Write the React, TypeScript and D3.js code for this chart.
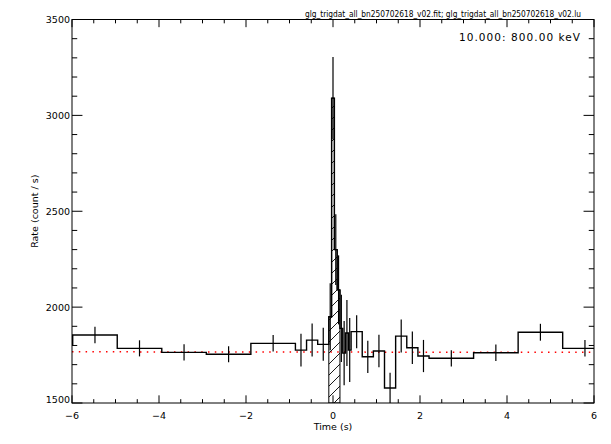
import * as d3 from 'd3';
import React from 'react';

// light curve, bin edges in seconds (trigdat: 1.024 s, 0.256 s, 0.064 s)
const binEdges = [
  -7.008, -5.984, -4.96, -3.936, -2.912, -1.888,
  -0.864, -0.608, -0.352, -0.096,
  -0.032, 0.032, 0.096, 0.16, 0.224, 0.288, 0.352, 0.416,
  0.672, 0.928, 1.184, 1.44, 1.696, 1.952, 2.208,
  3.232, 4.256, 5.28, 6.304,
];
const rates = [
  1802, 1855, 1785, 1764, 1754, 1811,
  1776, 1828, 1806,
  1950, 3090, 2300, 2090, 1889, 1760, 1865, 1776,
  1872, 1741, 1771, 1578, 1849, 1788, 1745,
  1733, 1762, 1869, 1785,
];
const rateErrors = [
  43, 43, 42, 42, 42, 43,
  85, 86, 86,
  175, 215, 185, 180, 175, 168, 172, 167,
  86, 84, 85, 80, 86, 85, 84,
  42, 43, 44, 43,
];

// background fit (red dotted) and source interval (hatched)
const bkgTimes = [-6, 6];
const bkgRates = [1767, 1764];
const srcInterval = [-0.096, 0.16];

const xTicks = [-6, -4, -2, 0, 2, 4, 6];
const xTickLabels = ['\u22126', '\u22124', '\u22122', '0', '2', '4', '6'];
const yTicks = [1500, 2000, 2500, 3000, 3500];
const yTickLabels = ['1500', '2000', '2500', '3000', '3500'];

const fileTitle = 'glg_trigdat_all_bn250702618_v02.fit; glg_trigdat_all_bn250702618_v02.lu';
const energyLabel = '10.000: 800.00 keV';

const W = 611, H = 444;
const plot = {left: 72, right: 594, top: 19.5, bottom: 403};
const font = '"DejaVu Sans", sans-serif';

export default function App() {
  const x = d3.scaleLinear().domain([-6, 6]).range([plot.left, plot.right]);
  const y = d3.scaleLinear().domain([1500, 3500]).range([plot.bottom, plot.top]);

  const stepPts: [number, number][] = rates.map((r, i) => [binEdges[i], r]);
  stepPts.push([binEdges[binEdges.length - 1], rates[rates.length - 1]]);
  const stepLine = d3.line<[number, number]>()
    .x(d => x(d[0])).y(d => y(d[1]))
    .curve(d3.curveStepAfter);

  // rate at time t (bin containing t)
  const rateAt = (t: number) => {
    const i = d3.bisectRight(binEdges, t) - 1;
    return rates[Math.max(0, Math.min(rates.length - 1, i))];
  };
  const [hs, he] = srcInterval;
  const hatchPts: [number, number][] = [[x(hs), plot.bottom], [x(hs), y(rateAt(hs))]];
  binEdges.filter(e => e > hs && e < he).forEach(e => {
    hatchPts.push([x(e), y(rateAt(e - 1e-6))]);
    hatchPts.push([x(e), y(rateAt(e))]);
  });
  hatchPts.push([x(he), y(rateAt(he - 1e-6))]);
  hatchPts.push([x(he), plot.bottom]);

  const xMinor = d3.range(-6, 6.001, 0.5);
  const yMinor = d3.range(1500, 3500.1, 100);
  const xLen = 0.02 * (plot.bottom - plot.top);
  const yLen = 0.02 * (plot.right - plot.left);

  return (
    <svg width={W} height={H} style={{position: 'absolute', left: 0, top: 0, background: '#fff'}}
      fontFamily={font}>
      <defs>
        <clipPath id="plotClip">
          <rect x={plot.left} y={plot.top} width={plot.right - plot.left} height={plot.bottom - plot.top} />
        </clipPath>
        <pattern id="hatch" patternUnits="userSpaceOnUse" width={11} height={11}>
          <path d="M0,11 L11,0 M-2,2 L2,-2 M9,13 L13,9" stroke="#000" strokeWidth={0.9} />
        </pattern>
      </defs>
      <rect width={W} height={H} fill="#fff" />

      <g clipPath="url(#plotClip)">
        <line x1={x(bkgTimes[0])} x2={x(bkgTimes[1])} y1={y(bkgRates[0])} y2={y(bkgRates[1])}
          stroke="#ff0000" strokeWidth={1.5} strokeDasharray="1.5 5.3" />
        <polygon points={hatchPts.map(p => p.join(',')).join(' ')} fill="url(#hatch)"
          stroke="#000" strokeWidth={1} />
        <path d={stepLine(stepPts) || ''} fill="none" stroke="#000" strokeWidth={1.4} />
        {rates.map((r, i) => {
          const c = x((binEdges[i] + binEdges[i + 1]) / 2);
          return <line key={i} x1={c} x2={c} y1={y(r - rateErrors[i])} y2={y(r + rateErrors[i])}
            stroke="#000" strokeWidth={1.2} />;
        })}
      </g>

      {/* frame and ticks */}
      <rect x={plot.left} y={plot.top} width={plot.right - plot.left} height={plot.bottom - plot.top}
        fill="none" stroke="#000" strokeWidth={1} />
      <g stroke="#000" strokeWidth={1}>
        {xMinor.map(t => {
          const major = Math.abs(t % 2) < 1e-6;
          const l = major ? xLen : xLen / 2;
          return <g key={`x${t}`}>
            <line x1={x(t)} x2={x(t)} y1={plot.bottom} y2={plot.bottom - l} />
            <line x1={x(t)} x2={x(t)} y1={plot.top} y2={plot.top + l} />
          </g>;
        })}
        {yMinor.map(v => {
          const major = v % 500 === 0;
          const l = major ? yLen : yLen / 2;
          return <g key={`y${v}`}>
            <line x1={plot.left} x2={plot.left + l} y1={y(v)} y2={y(v)} />
            <line x1={plot.right} x2={plot.right - l} y1={y(v)} y2={y(v)} />
          </g>;
        })}
      </g>

      <g fontSize={9.5} fill="#000">
        {xTicks.map((t, i) => (
          <text key={t} x={x(t)} y={418.5} textAnchor="middle">{xTickLabels[i]}</text>
        ))}
        {yTicks.map((v, i) => (
          <text key={v} x={plot.left - 2} y={y(v) + (i === 0 ? 0 : 3.5)} textAnchor="end">{yTickLabels[i]}</text>
        ))}
        <text x={(plot.left + plot.right) / 2} y={429.5} textAnchor="middle">Time (s)</text>
        <text transform={`translate(38,${(plot.top + plot.bottom) / 2}) rotate(-90)`} textAnchor="middle">
          Rate (count / s)
        </text>
      </g>

      <text x={443} y={16.5} fontSize={8} textAnchor="middle" textLength={276}
        lengthAdjust="spacingAndGlyphs">{fileTitle}</text>
      <text x={580} y={41} fontSize={10.5} textAnchor="end" textLength={121}
        lengthAdjust="spacing">{energyLabel}</text>
    </svg>
  );
}
